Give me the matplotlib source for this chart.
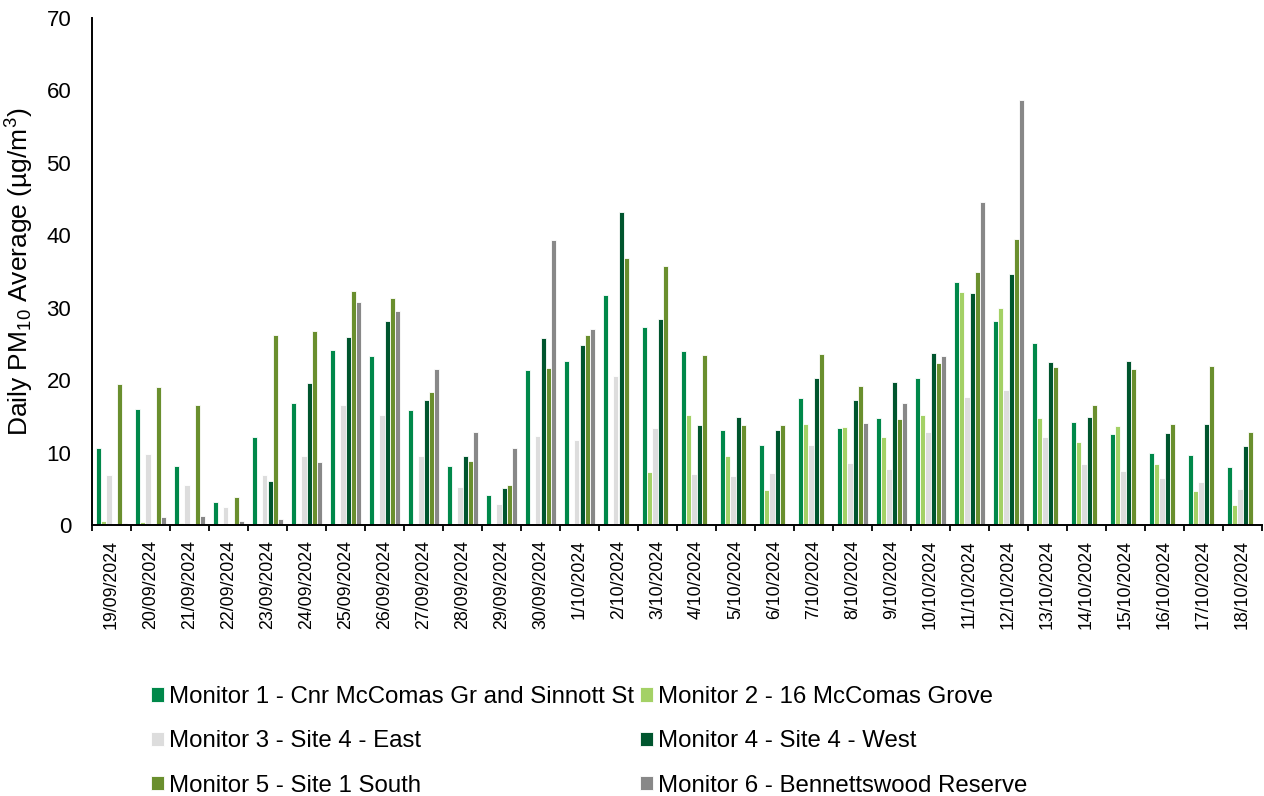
import numpy as np
import matplotlib
matplotlib.use("Agg")
import matplotlib.pyplot as plt
from matplotlib.ticker import FixedLocator, MultipleLocator

plt.rcParams['font.family'] = ['Liberation Sans', 'DejaVu Sans']
plt.rcParams['mathtext.fontset'] = 'custom'
plt.rcParams['mathtext.rm'] = 'Liberation Sans'
plt.rcParams['mathtext.it'] = 'Liberation Sans:italic'

dates = ["19/09/2024", "20/09/2024", "21/09/2024", "22/09/2024", "23/09/2024",
         "24/09/2024", "25/09/2024", "26/09/2024", "27/09/2024", "28/09/2024",
         "29/09/2024", "30/09/2024", "1/10/2024", "2/10/2024", "3/10/2024",
         "4/10/2024", "5/10/2024", "6/10/2024", "7/10/2024", "8/10/2024",
         "9/10/2024", "10/10/2024", "11/10/2024", "12/10/2024", "13/10/2024",
         "14/10/2024", "15/10/2024", "16/10/2024", "17/10/2024", "18/10/2024"]

m1 = [10.7, 16.0, 8.1, 3.2, 12.2, 16.8, 24.2, 23.3, 15.9, 8.1, 4.1, 21.4, 22.7, 31.8, 27.3,
      24.0, 13.1, 11.0, 17.6, 13.4, 14.8, 20.3, 33.6, 28.2, 25.1, 14.2, 12.5, 9.9, 9.7, 8.0]
m2 = [0.5, 0.4, 0.3, 0.0, 0.1, 0.3, 0.0, 0.0, 0.0, 0.2, 0.2, 0.0, 0.1, 0.1, 7.3,
      15.2, 9.5, 4.9, 13.9, 13.5, 12.2, 15.2, 32.2, 29.9, 14.8, 11.4, 13.7, 8.4, 4.7, 2.8]
m3 = [6.9, 9.8, 5.5, 2.5, 6.9, 9.5, 16.6, 15.2, 9.5, 5.2, 2.9, 12.3, 11.8, 20.6, 13.4,
      7.1, 6.8, 7.2, 11.0, 8.6, 7.7, 12.8, 17.7, 18.6, 12.1, 8.4, 7.5, 6.5, 5.9, 5.0]
m4 = [0.2, 0.2, 0.2, 0.0, 6.1, 19.6, 26.0, 28.2, 17.3, 9.5, 5.1, 25.8, 24.8, 43.2, 28.4,
      13.8, 14.9, 13.1, 20.3, 17.2, 19.7, 23.8, 32.0, 34.6, 22.5, 14.9, 22.7, 12.7, 13.9, 10.9]
m5 = [19.4, 19.1, 16.6, 3.9, 26.2, 26.8, 32.3, 31.4, 18.3, 8.8, 5.5, 21.7, 26.2, 36.8, 35.8,
      23.5, 13.8, 13.8, 23.6, 19.2, 14.6, 22.3, 35.0, 39.5, 21.8, 16.6, 21.6, 13.9, 21.9, 12.8]
m6 = [0.3, 1.1, 1.2, 0.5, 0.8, 8.7, 30.8, 29.6, 21.6, 12.8, 10.6, 39.3, 27.0, 0.0, 0.0,
      0.0, 0.0, 0.0, 0.0, 14.1, 16.9, 23.3, 44.6, 58.7, 0.0, 0.0, 0.0, 0.0, 0.0, 0.0]

labels = ["Monitor 1 - Cnr McComas Gr and Sinnott St", "Monitor 2 - 16 McComas Grove",
          "Monitor 3 - Site 4 - East", "Monitor 4 - Site 4 - West",
          "Monitor 5 - Site 1 South", "Monitor 6 - Bennettswood Reserve"]
series = [m1, m2, m3, m4, m5, m6]
colors = ["#00884A", "#A4D166", "#DDDDDD", "#00552E", "#6A8F2E", "#888888"]

fig = plt.figure(figsize=(12.64, 7.96), dpi=100)
ax = fig.add_axes([92/1264, 1-525/796, 1170/1264, 507/796])

x = np.arange(len(dates))
w = 0.8 / 6
handles = []
for i, (vals, lab, c) in enumerate(zip(series, labels, colors)):
    b = ax.bar(x + (i - 2.5) * w, vals, width=w, color=c, edgecolor="white",
               linewidth=0.6, label=lab)
    handles.append(b)

ax.set_xlim(-0.5, len(dates) - 0.5)
ax.set_ylim(0, 70)
ax.yaxis.set_major_locator(MultipleLocator(10))
ax.set_xticks(x)
ax.set_xticklabels(dates, rotation=90, fontsize=12.8)
ax.xaxis.set_minor_locator(FixedLocator(np.arange(-0.5, len(dates), 1)))
ax.tick_params(axis='x', which='major', length=0, pad=11)
ax.tick_params(axis='x', which='minor', length=4, width=1.3, color='black')
ax.tick_params(axis='y', length=0, pad=15, labelsize=16)

for s in ['top', 'right']:
    ax.spines[s].set_visible(False)
for s in ['left', 'bottom']:
    ax.spines[s].set_linewidth(1.4)
    ax.spines[s].set_color('black')

ax.set_ylabel(r'Daily PM$_{\mathrm{10}}$ Average (µg/m$^{\mathrm{3}}$)', fontsize=19)
ax.yaxis.set_label_coords(-0.048, 0.5)

order = [0, 2, 4, 1, 3, 5]
fig.legend([handles[k] for k in order], [labels[k] for k in order],
           loc='upper left', bbox_to_anchor=(151/1264, 1-686/796), ncol=2,
           frameon=False, fontsize=17.3, handlelength=0.55, handleheight=0.55,
           handletextpad=0.2, columnspacing=0.25, labelspacing=0.93,
           borderpad=0, borderaxespad=0)

fig.savefig("out.png", dpi=100)
